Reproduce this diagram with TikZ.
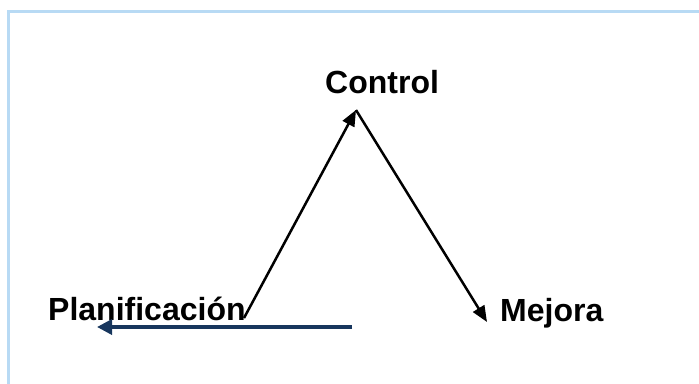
\documentclass[tikz,border=0pt]{standalone}
\usepackage{fontspec}
\setmainfont{Liberation Sans}
\usetikzlibrary{arrows.meta}
\definecolor{framebl}{RGB}{184,218,244}
\definecolor{navy}{RGB}{23,54,93}
\tikzset{
  label/.style={font=\fontsize{32}{37}\selectfont\bfseries, inner sep=0pt, anchor=base west},
  blackarrow/.style={draw=black, line width=2.5pt, -{Triangle[length=16pt,width=13pt]}},
  navyarrow/.style={draw=navy, line width=3.5pt, -{Triangle[length=15pt,width=15pt]}}
}
\begin{document}
\begin{tikzpicture}[x=1pt,y=-1pt]
  \useasboundingbox (0,0) rectangle (699,383);
  % open frame running off the right and bottom edges
  \draw[framebl, line width=3pt] (8,390) -- (8,11) -- (710,11);

  % labels
  \node[label] (ctrl) at (325,93) {Control};
  \node[label] (plan) at (48,320) {Planificación};
  \node[label] (mej) at (500,321) {Mejora};

  % arrow end points
  \coordinate (apex) at (356,110);
  \coordinate (pfoot) at (244,318);
  \coordinate (mtip) at (487,322);
  \coordinate (nstart) at (352,327);
  \coordinate (ntip) at (97,327);

  % cycle arrows
  \draw[blackarrow] (pfoot) -- (apex);
  \draw[blackarrow] (apex) -- (mtip);
  \draw[navyarrow] (nstart) -- (ntip);
\end{tikzpicture}
\end{document}
